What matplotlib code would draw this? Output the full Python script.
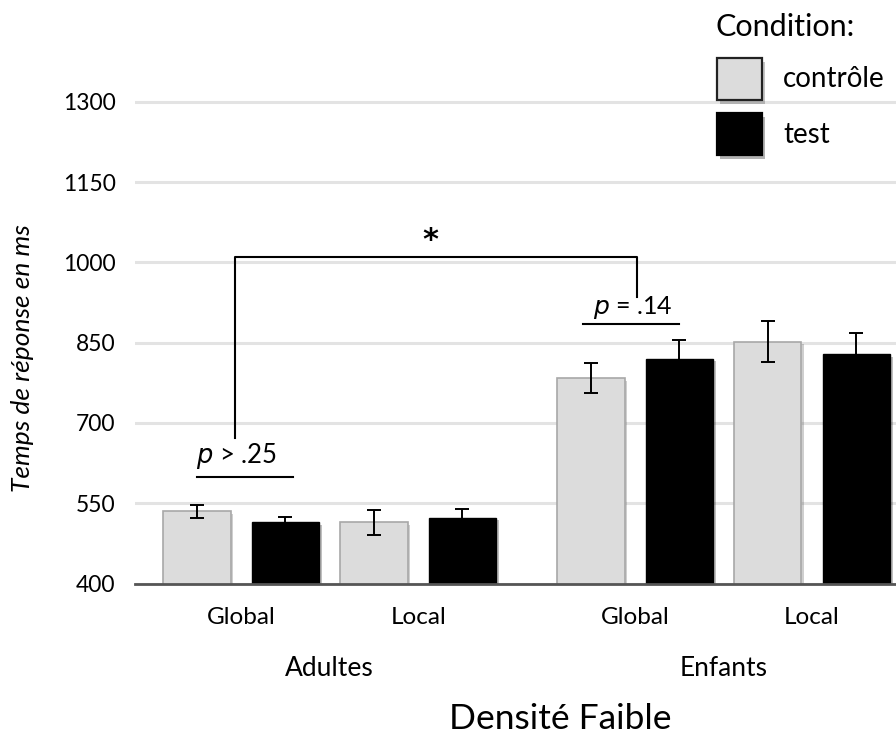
import matplotlib
matplotlib.use("Agg")
import matplotlib.pyplot as plt
import matplotlib.patheffects as pe
from matplotlib.patches import Rectangle
import numpy as np

plt.rcParams['font.family'] = ['Lato', 'DejaVu Sans']

groups = ["Adultes", "Enfants"]
tasks = ["Global", "Local"]
conditions = ["contrôle", "test"]
# order: Adultes-Global, Adultes-Local, Enfants-Global, Enfants-Local
controle_means = [535, 514, 783, 852]
controle_err = [12, 23, 28, 39]
test_means = [514, 523, 820, 829]
test_err = [11, 16, 34, 39]
yticks = [400, 550, 700, 850, 1000, 1150, 1300]
colors = ["#dcdcdc", "black"]

W, H = 896, 740
fig = plt.figure(figsize=(W / 100, H / 100), dpi=100)
ax_left, ax_right = 135, 896
ax_bottom_px, ymax = 583.5, 1400
ppu = 0.5353
ax_top_px = ax_bottom_px - (ymax - 400) * ppu
ax = fig.add_axes([ax_left / W, 1 - ax_bottom_px / H, (ax_right - ax_left) / W,
                   (ax_bottom_px - ax_top_px) / H])

# bar positions
step = 1.0
group_gap = 0.452
pair_centers = []
pos_c, pos_t = [], []
x = 0.0
for g in range(2):
    for t in range(2):
        pos_c.append(x)
        pos_t.append(x + step)
        pair_centers.append(x + step / 2)
        x += 2 * step
    x += group_gap
bw = 0.76

shadow = [pe.SimplePatchShadow(offset=(2, -2), alpha=0.25), pe.Normal()]
bc = ax.bar(pos_c, controle_means, bw, color=colors[0], edgecolor="#a8a8a8",
            linewidth=1.2, zorder=3, label=conditions[0])
bt = ax.bar(pos_t, test_means, bw, color=colors[1], edgecolor="black", linewidth=1.0,
            zorder=3, label=conditions[1])
for b in list(bc) + list(bt):
    b.set_path_effects(shadow)
ax.errorbar(pos_c, controle_means, yerr=controle_err, fmt="none", ecolor="black",
            elinewidth=1.4, capsize=5, capthick=1.4, zorder=4)
ax.errorbar(pos_t, test_means, yerr=test_err, fmt="none", ecolor="black",
            elinewidth=1.4, capsize=5, capthick=1.4, zorder=2)

ax.set_xlim(-0.70, 7.90)
ax.set_ylim(400, ymax)
ax.set_yticks(yticks)
ax.set_yticklabels([str(v) for v in yticks], fontsize=16.5)
ax.tick_params(axis="y", length=0, pad=14)
ax.set_xticks(pair_centers)
ax.set_xticklabels(tasks * 2, fontsize=17.5)
ax.tick_params(axis="x", length=0, pad=17)
for s in ["top", "right", "left"]:
    ax.spines[s].set_visible(False)
ax.spines["bottom"].set_color("#555555")
ax.spines["bottom"].set_linewidth(2)
ax.spines["bottom"].set_zorder(5)
ax.yaxis.grid(True, color="#e3e3e3", linewidth=2.2, zorder=0)
ax.set_axisbelow(True)

# group labels
axh_px = ax_bottom_px - ax_top_px
for gi, gname in enumerate(groups):
    cx = (pair_centers[2 * gi] + pair_centers[2 * gi + 1]) / 2
    ax.text(cx, -(668 - ax_bottom_px) / axh_px, gname, transform=ax.get_xaxis_transform(),
            ha="center", va="center", fontsize=19)

fig.text(560 / W, 1 - 719 / H, "Densité Faible", ha="center", va="center", fontsize=25.5)
fig.text(23 / W, 1 - 358 / H, "Temps de réponse en ms", rotation=90, ha="center",
         va="center", fontsize=19, style="italic")

# significance annotations
ax.plot([-0.003, 1.09], [599.5, 599.5], color="black", lw=1.5, zorder=6, clip_on=False)
ax.text(0.45, 638, r"$\it{p}$ > .25", ha="center", va="center", fontsize=18.5)
ax.plot([4.365, 5.45], [884, 884], color="black", lw=1.5, zorder=6)
ax.text(4.93, 916, r"$\it{p}$ = .14", ha="center", va="center", fontsize=18)
ax.plot([0.43, 0.43, 4.975, 4.975], [671, 1010.5, 1010.5, 936], color="black", lw=1.5,
        zorder=6)
ax.text(2.64, 1040, "*", ha="center", va="center", fontsize=22, family="DejaVu Sans",
        fontweight="bold")

# legend (drawn manually in figure pixels)
def fx(px):
    return px / W

def fy(py):
    return 1 - py / H

fig.text(fx(715), fy(27), "Condition:", ha="left", va="center", fontsize=22)
box_tops = [58, 113]
edge_cols = ["#222222", "black"]
label_y = [79, 135]
for i, cond in enumerate(conditions):
    r = Rectangle((fx(717), fy(box_tops[i] + 42)), fx(45), 42 / H, transform=fig.transFigure,
                  facecolor=colors[i], edgecolor=edge_cols[i], linewidth=1.6)
    r.set_path_effects([pe.SimplePatchShadow(offset=(2, -3), alpha=0.3), pe.Normal()])
    fig.add_artist(r)
    fig.text(fx(783), fy(label_y[i]), cond, ha="left", va="center", fontsize=20)

fig.savefig("out.png", dpi=100)
